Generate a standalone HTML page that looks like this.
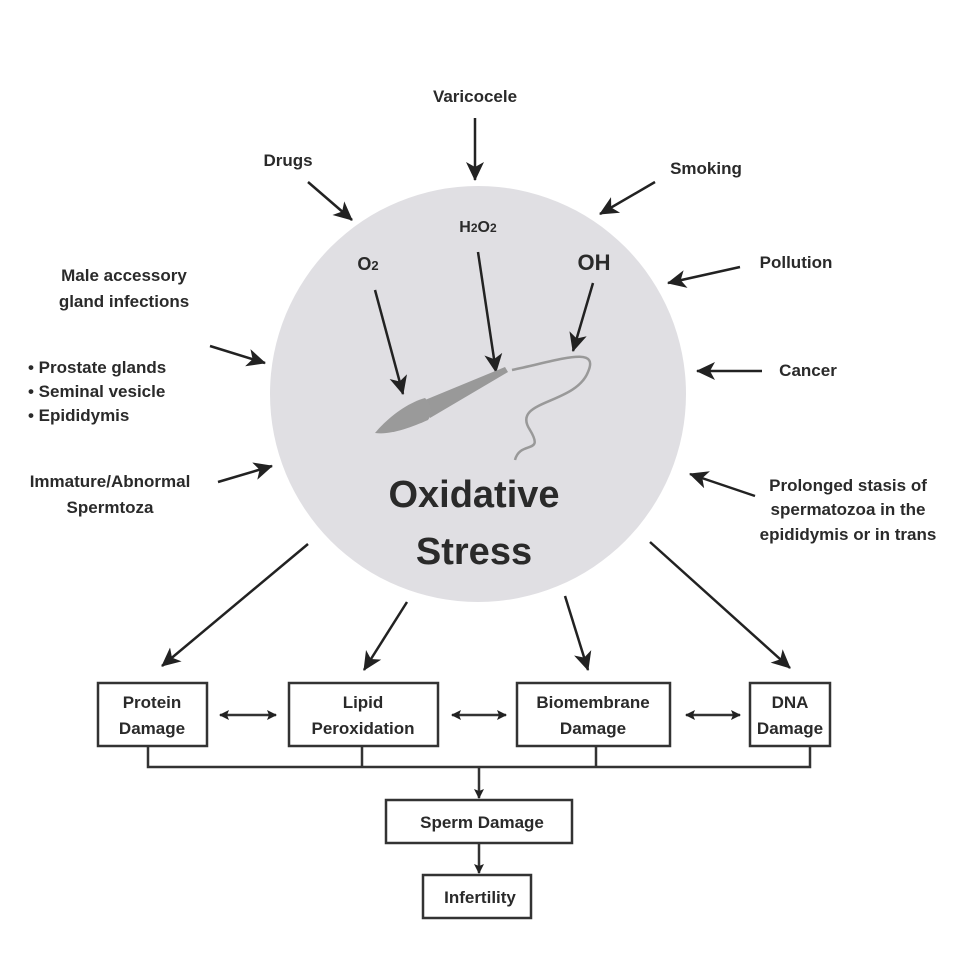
<!DOCTYPE html>
<html><head><style>
body{margin:0;background:#fff}
svg text{font-family:"Liberation Sans",Arial,sans-serif;font-weight:bold;fill:#2a2a2a}
</style></head><body>
<svg width="960" height="960" viewBox="0 0 960 960" xmlns="http://www.w3.org/2000/svg">
<defs>
<marker id="a" markerWidth="8" markerHeight="8" refX="7" refY="4" orient="auto" markerUnits="userSpaceOnUse"><path d="M0,0 L8,4 L0,8 L2,4z" fill="#222"/></marker>
<marker id="b" markerWidth="20" markerHeight="20" refX="18" refY="10" orient="auto" markerUnits="userSpaceOnUse"><path d="M0,1 L19,10 L0,19 L5,10z" fill="#222"/></marker>
<marker id="s" markerWidth="10" markerHeight="10" refX="9" refY="5" orient="auto" markerUnits="userSpaceOnUse"><path d="M0,0 L10,5 L0,10 L2,5z" fill="#222"/></marker>
<marker id="s0" markerWidth="10" markerHeight="10" refX="1" refY="5" orient="auto" markerUnits="userSpaceOnUse"><path d="M10,0 L0,5 L10,10 L8,5z" fill="#222"/></marker>
</defs>
<circle cx="478" cy="394" r="208" fill="#e0dfe3"/>
<g stroke="#222" stroke-width="2.5" fill="none">
<line x1="475" y1="118" x2="475" y2="180" marker-end="url(#b)"/>
<line x1="308" y1="182" x2="352" y2="220" marker-end="url(#b)"/>
<line x1="655" y1="182" x2="600" y2="214" marker-end="url(#b)"/>
<line x1="740" y1="267" x2="668" y2="283" marker-end="url(#b)"/>
<line x1="762" y1="371" x2="697" y2="371" marker-end="url(#b)"/>
<line x1="755" y1="496" x2="690" y2="474" marker-end="url(#b)"/>
<line x1="210" y1="346" x2="265" y2="363" marker-end="url(#b)"/>
<line x1="218" y1="482" x2="272" y2="466" marker-end="url(#b)"/>
<line x1="375" y1="290" x2="403" y2="394" marker-end="url(#b)"/>
<line x1="478" y1="252" x2="496" y2="372" marker-end="url(#b)"/>
<line x1="593" y1="283" x2="573" y2="351" marker-end="url(#b)"/>
<line x1="308" y1="544" x2="162" y2="666" marker-end="url(#b)"/>
<line x1="407" y1="602" x2="364" y2="670" marker-end="url(#b)"/>
<line x1="565" y1="596" x2="588" y2="670" marker-end="url(#b)"/>
<line x1="650" y1="542" x2="790" y2="668" marker-end="url(#b)"/>
</g>
<!-- sperm -->
<path d="M512,370 C560,360 600,345 588,372 C575,405 510,400 530,430 C545,455 520,440 515,460" stroke="#999" stroke-width="2.5" fill="none"/>
<path d="M425,400 L505,367 L508,372 L430,418 Z" fill="#999"/>
<path d="M375,433 C390,415 410,402 425,398 C432,405 432,415 428,420 C410,428 390,435 375,433Z" fill="#9a9a9a"/>
<g stroke="#333" stroke-width="2.5" fill="#fff">
<rect x="98" y="683" width="109" height="63"/>
<rect x="289" y="683" width="149" height="63"/>
<rect x="517" y="683" width="153" height="63"/>
<rect x="750" y="683" width="80" height="63"/>
<rect x="386" y="800" width="186" height="43"/>
<rect x="423" y="875" width="108" height="43"/>
</g>
<g stroke="#333" stroke-width="2.5" fill="none">
<polyline points="148,746 148,767 810,767 810,746"/>
<line x1="362" y1="746" x2="362" y2="767"/>
<line x1="596" y1="746" x2="596" y2="767"/>
<line x1="479" y1="767" x2="479" y2="798" marker-end="url(#s)"/>
<line x1="479" y1="843" x2="479" y2="873" marker-end="url(#s)"/>
<line x1="220" y1="715" x2="276" y2="715" marker-start="url(#s0)" marker-end="url(#s)"/>
<line x1="452" y1="715" x2="506" y2="715" marker-start="url(#s0)" marker-end="url(#s)"/>
<line x1="686" y1="715" x2="740" y2="715" marker-start="url(#s0)" marker-end="url(#s)"/>
</g>
<g font-size="17">
<text x="475" y="102" text-anchor="middle">Varicocele</text>
<text x="288" y="166" text-anchor="middle">Drugs</text>
<text x="706" y="174" text-anchor="middle">Smoking</text>
<text x="796" y="268" text-anchor="middle">Pollution</text>
<text x="808" y="376" text-anchor="middle">Cancer</text>
<text x="124" y="281" text-anchor="middle">Male accessory</text>
<text x="124" y="307" text-anchor="middle">gland infections</text>
<text x="28" y="373">• Prostate glands</text>
<text x="28" y="397">• Seminal vesicle</text>
<text x="28" y="421">• Epididymis</text>
<text x="110" y="487" text-anchor="middle">Immature/Abnormal</text>
<text x="110" y="513" text-anchor="middle">Spermtoza</text>
<text x="848" y="491" text-anchor="middle">Prolonged stasis of</text>
<text x="848" y="515" text-anchor="middle">spermatozoa in the</text>
<text x="848" y="540" text-anchor="middle">epididymis or in trans</text>
<text x="478" y="232" text-anchor="middle" font-size="16">H<tspan font-size="12">2</tspan>O<tspan font-size="12">2</tspan></text>
<text x="368" y="270" text-anchor="middle" font-size="18">O<tspan font-size="13">2</tspan></text>
<text x="594" y="270" text-anchor="middle" font-size="22">OH</text>
<text x="474" y="507" text-anchor="middle" font-size="38">Oxidative</text>
<text x="474" y="564" text-anchor="middle" font-size="38">Stress</text>
<g text-anchor="middle">
<text x="152" y="708">Protein</text><text x="152" y="734">Damage</text>
<text x="363" y="708">Lipid</text><text x="363" y="734">Peroxidation</text>
<text x="593" y="708">Biomembrane</text><text x="593" y="734">Damage</text>
<text x="790" y="708">DNA</text><text x="790" y="734">Damage</text>
<text x="482" y="828">Sperm Damage</text>
<text x="480" y="903">Infertility</text>
</g>
</g>
</svg>
</body></html>
